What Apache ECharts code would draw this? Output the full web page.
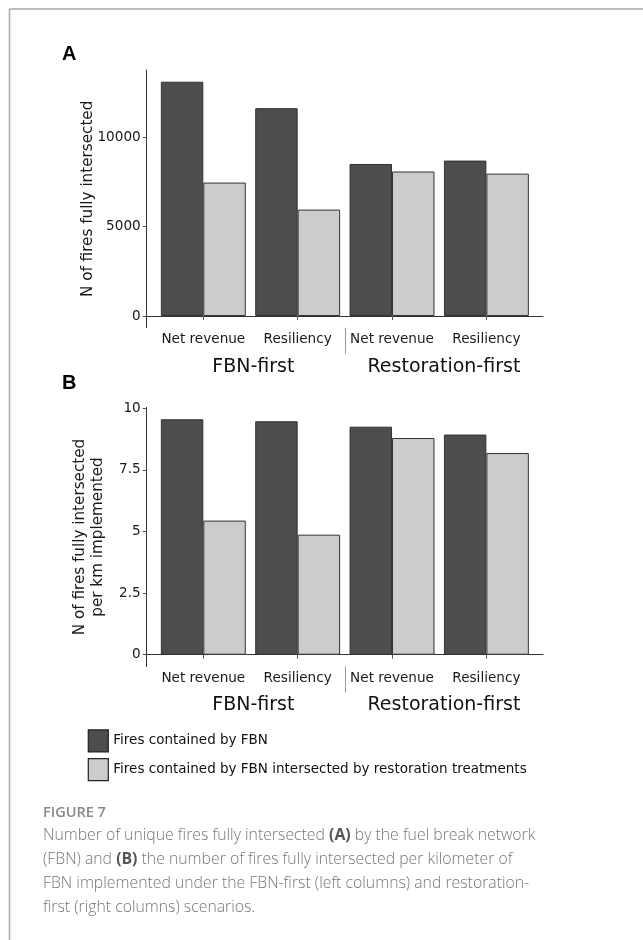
<!DOCTYPE html>
<html>
<head>
<meta charset="utf-8">
<script src="https://cdn.jsdelivr.net/npm/echarts@6/dist/echarts.min.js"></script>
<style>
html,body{margin:0;padding:0;background:#fff;}
#c{width:643px;height:940px;}
</style>
</head>
<body>
<div id="c"></div>
<script>
// ---- data ----
var categories = ['Net revenue', 'Resiliency', 'Net revenue', 'Resiliency'];
var scenarios = ['FBN-first', 'Restoration-first'];
var seriesNames = ['Fires contained by FBN', 'Fires contained by FBN intersected by restoration treatments'];
var firesFBN = [13100, 11620, 8500, 8690];
var firesRestoration = [7460, 5950, 8080, 7960];
var perKmFBN = [9.55, 9.47, 9.25, 8.93];
var perKmRestoration = [5.44, 4.87, 8.79, 8.18];
var ticksA = [0, 5000, 10000];
var ticksB = [0, 2.5, 5, 7.5, 10];

var FONT = 'DejaVu Sans';
var DARK = '#4d4d4d', LIGHT = '#cccccc';
var catPos = categories.map(function (c, i) { return i + 1; });
var scenarioPos = [1.53, 3.55];
var dividerPos = [2.5];

function toPairs(arr) { return arr.map(function (v, i) { return [catPos[i], v]; }); }
function expand(arrs) {
  var m = Math.max.apply(null, [].concat.apply([], arrs));
  return { min: -0.05 * m, max: 1.05 * m };
}
var rA = expand([firesFBN, firesRestoration]);
var rB = expand([perKmFBN, perKmRestoration]);

var chart = echarts.init(document.getElementById('c'), null, { renderer: 'canvas' });

function catAxis(gi) {
  return {
    type: 'value', gridIndex: gi, min: 0.4, max: 4.6, position: 'bottom',
    axisLine: { show: true, lineStyle: { color: '#333', width: 1 } },
    axisTick: { show: true, length: 4, customValues: catPos, lineStyle: { color: '#555' } },
    axisLabel: {
      customValues: catPos, margin: 5, fontFamily: FONT, fontSize: 13.6, color: '#1a1a1a',
      formatter: function (v) { return categories[Math.round(v) - 1]; }
    },
    splitLine: { show: false }
  };
}
function scenAxis(gi, margin) {
  return {
    type: 'value', gridIndex: gi, min: 0.4, max: 4.6, position: 'bottom',
    axisLine: { show: false },
    axisTick: { show: true, length: 26, customValues: dividerPos, lineStyle: { color: '#999', width: 1 } },
    axisLabel: {
      customValues: scenarioPos, margin: margin, fontFamily: FONT, fontSize: 19, color: '#111',
      formatter: function (v) { return v < 2.5 ? scenarios[0] : scenarios[1]; }
    },
    splitLine: { show: false }
  };
}
function valAxis(gi, r, ticks, name, gap) {
  return {
    type: 'value', gridIndex: gi, min: r.min, max: r.max,
    name: name, nameLocation: 'middle', nameRotate: 90, nameGap: gap, nameMoveOverlap: false,
    nameTextStyle: { fontFamily: FONT, fontSize: 15.2, color: '#1a1a1a', lineHeight: 18 },
    axisLine: { show: true, lineStyle: { color: '#333', width: 1 } },
    axisTick: { show: true, length: 4, customValues: ticks, lineStyle: { color: '#555' } },
    axisLabel: {
      customValues: ticks, margin: 6, fontFamily: FONT, fontSize: 13.6, color: '#1a1a1a',
      formatter: function (v) { return String(v); }
    },
    splitLine: { show: false }
  };
}
function bar(name, data, color, xi, yi) {
  return {
    type: 'bar', name: name, data: toPairs(data), xAxisIndex: xi, yAxisIndex: yi,
    barGap: '0%', barCategoryGap: '10%',
    itemStyle: { color: color, borderColor: '#333', borderWidth: 1 },
    emphasis: { disabled: true }, animation: false
  };
}

var option = {
  animation: false,
  backgroundColor: '#fff',
  textStyle: { fontFamily: FONT },
  title: [
    { text: 'A', left: 62, top: 44, padding: 0, textStyle: { fontFamily: 'Liberation Sans', fontWeight: 'bold', fontSize: 20, color: '#000' } },
    { text: 'B', left: 62, top: 373.5, padding: 0, textStyle: { fontFamily: 'Liberation Sans', fontWeight: 'bold', fontSize: 20, color: '#000' } },
    { text: 'FIGURE 7', left: 43, top: 803.5, padding: 0, textStyle: { fontFamily: 'Open Sans', fontWeight: 600, fontSize: 14.5, color: '#888', lineHeight: 18 } },
    {
      text: 'Number of unique fires fully intersected {b|(A)} by the fuel break network\n(FBN) and {b|(B)} the number of fires fully intersected per kilometer of\nFBN implemented under the FBN-first (left columns) and restoration-\nfirst (right columns) scenarios.',
      left: 43, top: 823, padding: 0,
      textStyle: {
        fontFamily: 'Open Sans', fontWeight: 300, fontSize: 15.8, color: '#777', lineHeight: 24,
        rich: { b: { fontFamily: 'Open Sans', fontWeight: 'bold', fontSize: 15.8, color: '#555', lineHeight: 24 } }
      }
    }
  ],
  legend: {
    orient: 'vertical', left: 87.7, top: 729.3, itemWidth: 20, itemHeight: 22, itemGap: 5.6, padding: 0,
    selectedMode: false,
    textStyle: { fontFamily: FONT, fontSize: 13.5, color: '#111' },
    data: [
      { name: seriesNames[0], icon: 'rect', itemStyle: { color: DARK, borderColor: '#222', borderWidth: 1.2 } },
      { name: seriesNames[1], icon: 'rect', itemStyle: { color: LIGHT, borderColor: '#222', borderWidth: 1.2 } }
    ]
  },
  grid: [
    { left: 146.7, right: 100, top: 70, height: 257.7 },
    { left: 146.7, right: 100, top: 407.5, height: 259 }
  ],
  xAxis: [catAxis(0), scenAxis(0, 30), catAxis(1), scenAxis(1, 29)],
  yAxis: [
    valAxis(0, rA, ticksA, 'N of fires fully intersected', 50),
    valAxis(1, rB, ticksB, 'N of fires fully intersected\nper km implemented', 40)
  ],
  series: [
    bar(seriesNames[0], firesFBN, DARK, 0, 0),
    bar(seriesNames[1], firesRestoration, LIGHT, 0, 0),
    bar(seriesNames[0], perKmFBN, DARK, 2, 1),
    bar(seriesNames[1], perKmRestoration, LIGHT, 2, 1)
  ],
  graphic: [
    { type: 'line', silent: true, shape: { x1: 9.5, y1: 9, x2: 643, y2: 9 }, style: { stroke: '#aaa', lineWidth: 1.5 } },
    { type: 'line', silent: true, shape: { x1: 9.5, y1: 9, x2: 9.5, y2: 940 }, style: { stroke: '#aaa', lineWidth: 1.5 } }
  ]
};
chart.setOption(option);
</script>
</body>
</html>
